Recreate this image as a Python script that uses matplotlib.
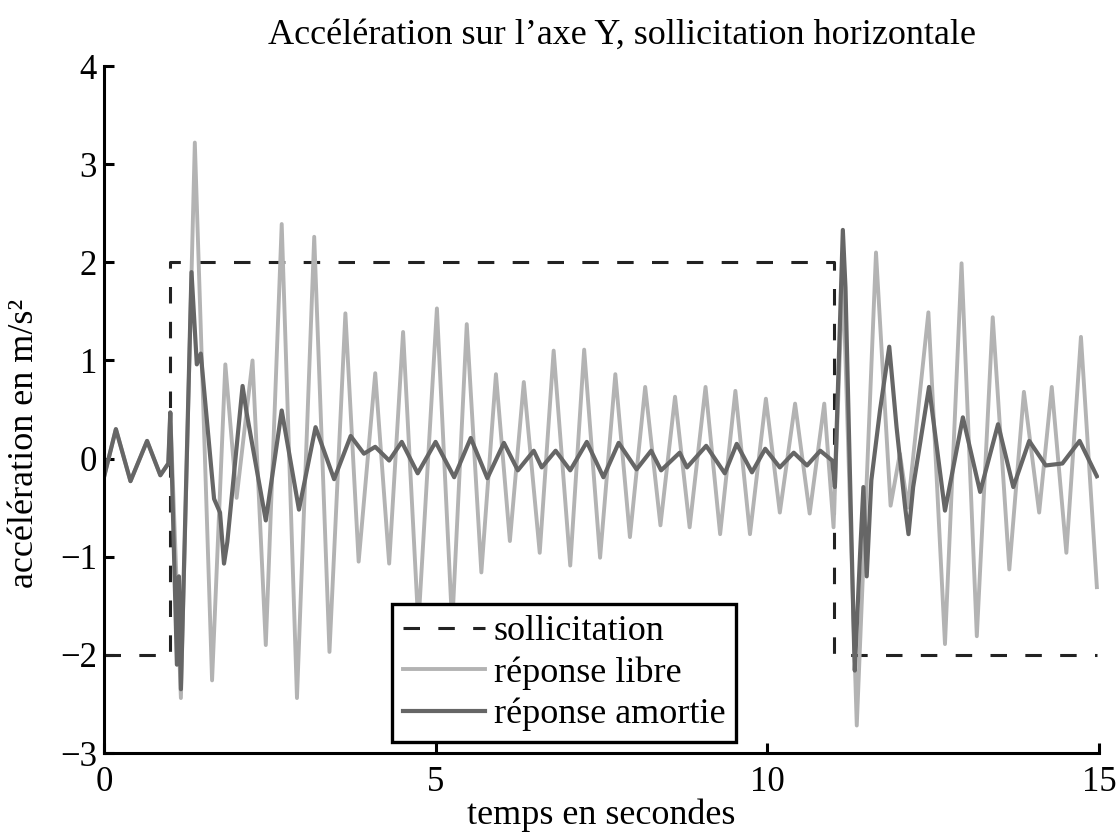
import matplotlib.pyplot as plt

plt.rcParams['font.family'] = ['Liberation Serif', 'DejaVu Serif']

# Sollicitation (step input)
sol_t = [0, 1, 1, 11, 11, 14.97]
sol_y = [-2, -2, 2, 2, -2, -2]

# Free response (peaks / troughs)
libre_t = [0.0, 0.18, 0.40, 0.65, 0.85, 0.97, 1.00, 1.16, 1.37, 1.63, 1.83, 2.00,
           2.24, 2.44, 2.68, 2.91, 3.17, 3.40, 3.64, 3.84, 4.09, 4.30, 4.51, 4.74,
           5.02, 5.25, 5.47, 5.69, 5.91, 6.12, 6.33, 6.57, 6.78, 7.03, 7.24, 7.48,
           7.71, 7.93, 8.16, 8.39, 8.61, 8.83, 9.07, 9.29, 9.52, 9.74, 9.98, 10.19,
           10.42, 10.64, 10.86, 11.00, 11.14, 11.35, 11.64, 11.86, 12.00, 12.12,
           12.43, 12.68, 12.93, 13.16, 13.40, 13.65, 13.87, 14.10, 14.29, 14.51,
           14.73, 14.97]
libre_y = [-0.19, 0.30, -0.23, 0.18, -0.17, -0.05, 0.47, -2.44, 3.22, -2.26, 0.96, -0.40,
           1.00, -1.90, 2.39, -2.44, 2.26, -1.97, 1.48, -1.05, 0.87, -1.07, 1.29, -1.70,
           1.53, -1.70, 1.37, -1.16, 0.86, -0.84, 0.78, -0.96, 1.10, -1.09, 1.11, -1.01,
           0.86, -0.80, 0.73, -0.68, 0.63, -0.70, 0.73, -0.77, 0.69, -0.77, 0.61, -0.55,
           0.56, -0.56, 0.56, -0.70, 1.90, -2.72, 2.10, -0.48, 0.05, -0.50,
           1.49, -1.89, 1.99, -1.81, 1.44, -1.13, 0.68, -0.55, 0.73, -0.96,
           1.24, -1.31]

# Damped response
amort_t = [0.0, 0.18, 0.40, 0.65, 0.85, 0.97, 1.00, 1.10, 1.13, 1.16, 1.32, 1.40,
           1.46, 1.66, 1.75, 1.81, 1.86, 2.09, 2.15, 2.44, 2.68, 2.94, 3.19, 3.47,
           3.72, 3.92, 4.09, 4.30, 4.49, 4.73, 5.00, 5.28, 5.53, 5.78, 6.03, 6.24,
           6.48, 6.60, 6.81, 7.03, 7.28, 7.53, 7.76, 8.03, 8.25, 8.40, 8.68, 8.79,
           9.08, 9.36, 9.54, 9.77, 9.97, 10.19, 10.40, 10.60, 10.80, 10.98, 11.02,
           11.14, 11.18, 11.30, 11.32, 11.40, 11.45, 11.50, 11.57, 11.70, 11.84,
           11.95, 12.08, 12.13, 12.20, 12.44, 12.68, 12.95, 13.21, 13.48, 13.71,
           13.95, 14.20, 14.45, 14.71, 14.97]
amort_y = [-0.19, 0.30, -0.23, 0.18, -0.17, -0.05, 0.47, -2.10, -1.20, -2.35, 1.90, 0.96,
           1.07, -0.41, -0.55, -1.07, -0.85, 0.74, 0.47, -0.63, 0.49, -0.52, 0.32, -0.21,
           0.23, 0.05, 0.12, -0.02, 0.17, -0.15, 0.17, -0.19, 0.21, -0.20, 0.16, -0.12,
           0.08, -0.09, 0.08, -0.12, 0.17, -0.19, 0.16, -0.11, 0.08, -0.12, 0.06, -0.09,
           0.13, -0.15, 0.15, -0.14, 0.10, -0.09, 0.06, -0.07, 0.08, -0.02, -0.29,
           2.33, 1.74, -1.65, -2.16, -0.97, -0.29, -1.20, -0.22, 0.49, 1.14,
           0.32, -0.50, -0.77, -0.29, 0.73, -0.53, 0.42, -0.34, 0.35, -0.29,
           0.18, -0.07, -0.05, 0.18, -0.18]

fig = plt.figure(figsize=(11.19, 8.39), dpi=100)
ax = fig.add_axes([0.0929, 0.1025, 0.8891, 0.8188])

ax.plot(sol_t, sol_y, color='#222222', lw=2.2, dashes=(5.4, 6), label='sollicitation')
ax.plot(libre_t, libre_y, color='#b3b3b3', lw=2.8, solid_joinstyle='round',
        label='réponse libre')
ax.plot(amort_t, amort_y, color='#666666', lw=3.0, solid_joinstyle='round',
        label='réponse amortie')

ax.set_xlim(0, 15)
ax.set_ylim(-3, 4)
ax.set_xticks([0, 5, 10, 15])
ax.set_yticks(range(-3, 5))
for s in ['top', 'right']:
    ax.spines[s].set_visible(False)
for s in ['left', 'bottom']:
    ax.spines[s].set_linewidth(2.2)
ax.tick_params(direction='in', length=7, width=2.2, labelsize=25)
ax.tick_params(axis='x', pad=9)
ax.tick_params(axis='y', pad=5)

fig.text(0.556, 0.958, 'Accélération sur l’axe Y, sollicitation horizontale',
         fontsize=26, ha='center', va='center')
ax.set_xlabel('temps en secondes', fontsize=26, labelpad=0)
ax.set_ylabel('accélération en m/s²', fontsize=26, labelpad=4)
ax.yaxis.set_label_coords(-0.063, 0.45)

leg = ax.legend(loc='lower left', bbox_to_anchor=(0.29, 0.016), fontsize=26,
                fancybox=False, framealpha=1, edgecolor='black', handlelength=2.25,
                handletextpad=0.25, labelspacing=0.22, borderpad=0.3,
                borderaxespad=0)
leg.get_frame().set_linewidth(2.4)

fig.savefig('out.png', dpi=100)
